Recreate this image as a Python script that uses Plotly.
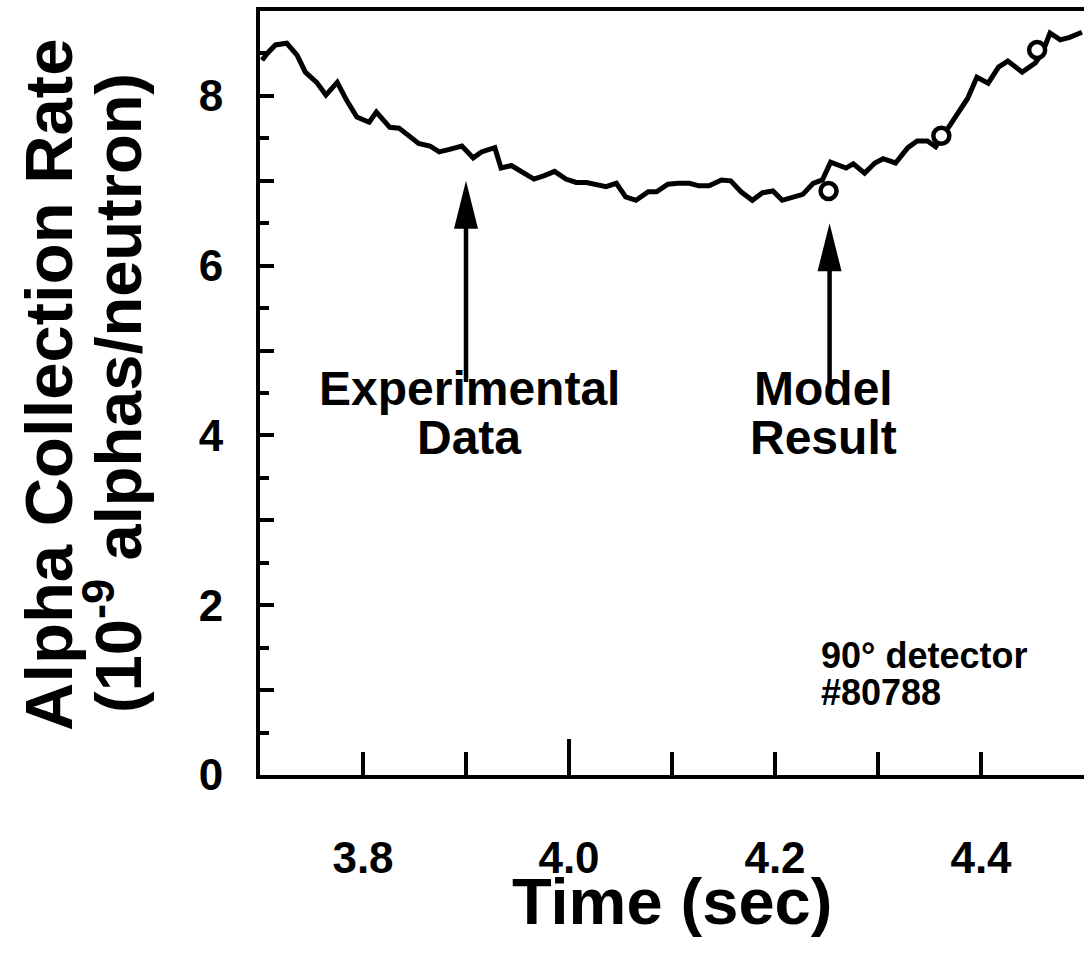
import plotly.graph_objects as go

# Experimental data (time in sec, alpha collection rate in 1e-9 alphas/neutron)
exp_time = [3.702, 3.707, 3.715, 3.726, 3.736, 3.744, 3.755, 3.764, 3.775, 3.784,
            3.794, 3.806, 3.813, 3.826, 3.835, 3.844, 3.854, 3.865, 3.874, 3.884,
            3.896, 3.907, 3.915, 3.928, 3.934, 3.944, 3.956, 3.966, 3.976, 3.986,
            3.997, 4.007, 4.017, 4.026, 4.036, 4.046, 4.055, 4.065, 4.077, 4.085,
            4.096, 4.106, 4.117, 4.126, 4.136, 4.148, 4.157, 4.167, 4.178, 4.188,
            4.198, 4.207, 4.217, 4.227, 4.237, 4.246, 4.254, 4.269, 4.276, 4.287,
            4.297, 4.305, 4.317, 4.329, 4.338, 4.348, 4.356, 4.365, 4.377, 4.387,
            4.396, 4.407, 4.417, 4.426, 4.440, 4.453, 4.460, 4.467, 4.477, 4.486,
            4.498]
exp_rate = [8.42, 8.50, 8.60, 8.62, 8.48, 8.28, 8.16, 8.01, 8.16, 7.95,
            7.75, 7.69, 7.81, 7.63, 7.62, 7.53, 7.44, 7.41, 7.34, 7.37,
            7.41, 7.27, 7.34, 7.39, 7.15, 7.18, 7.09, 7.02, 7.06, 7.11,
            7.02, 6.98, 6.98, 6.96, 6.93, 6.97, 6.81, 6.77, 6.87, 6.87,
            6.96, 6.97, 6.97, 6.94, 6.94, 7.01, 7.00, 6.87, 6.77, 6.86,
            6.88, 6.77, 6.81, 6.84, 6.97, 7.01, 7.22, 7.15, 7.20, 7.09,
            7.21, 7.26, 7.21, 7.39, 7.47, 7.47, 7.40, 7.56, 7.77, 7.97,
            8.22, 8.15, 8.34, 8.41, 8.28, 8.39, 8.52, 8.74, 8.66, 8.69,
            8.75]

# Model results
model_time = [4.252, 4.3615, 4.4545]
model_rate = [6.88, 7.53, 8.54]

# Axis ticks
x_tickvals = [3.8, 4.0, 4.2, 4.4]
x_ticktext = ["3.8", "4.0", "4.2", "4.4"]
y_tickvals = [0, 1, 2, 3, 4, 5, 6, 7, 8, 9]
y_ticktext = ["0", "", "2", "", "4", "", "6", "", "8", ""]

FONT = "Liberation Sans, Arial, Helvetica, sans-serif"
L, T, B = 260, 11, 197   # margins (px)
PW, PH = 1084 - L, 972 - T - B


def bold(size):
    return dict(size=size, family=FONT, color="black", weight="bold")


fig = go.Figure()
fig.add_trace(go.Scatter(x=exp_time, y=exp_rate, mode="lines",
                         line=dict(color="black", width=5),
                         showlegend=False, hoverinfo="skip"))
fig.add_trace(go.Scatter(x=model_time, y=model_rate, mode="markers",
                         marker=dict(symbol="circle", size=16, color="white",
                                     line=dict(color="black", width=4.5)),
                         showlegend=False, hoverinfo="skip"))

# Arrows: shaft lines + pixel-sized arrowheads anchored at tips
arrows = [(3.90, 4.63, 7.00), (4.253, 4.58, 6.50)]
shapes = []
for ax, ybot, ytip in arrows:
    shapes.append(dict(type="line", xref="x", yref="y", x0=ax, x1=ax,
                       y0=ybot, y1=ytip - 0.5, line=dict(color="black", width=4.5)))
    shapes.append(dict(type="path", xref="x", yref="y", xsizemode="pixel",
                       ysizemode="pixel", xanchor=ax, yanchor=ytip,
                       path="M0,0 L-12,-48 L12,-48 Z", fillcolor="black",
                       line=dict(width=0)))
# longer tick at 4.0
shapes.append(dict(type="line", xref="x", yref="y", ysizemode="pixel", yanchor=0,
                   x0=4.0, x1=4.0, y0=0, y1=36, line=dict(color="black", width=4)))

annotations = [
    dict(text="Experimental", x=3.903, y=4.55, xref="x", yref="y",
         xanchor="center", yanchor="middle", showarrow=False, font=bold(48)),
    dict(text="Data", x=3.903, y=3.97, xref="x", yref="y",
         xanchor="center", yanchor="middle", showarrow=False, font=bold(48)),
    dict(text="Model", x=4.247, y=4.55, xref="x", yref="y",
         xanchor="center", yanchor="middle", showarrow=False, font=bold(48)),
    dict(text="Result", x=4.247, y=3.97, xref="x", yref="y",
         xanchor="center", yanchor="middle", showarrow=False, font=bold(48)),
    dict(text="90° detector", x=4.243, y=1.41, xref="x", yref="y",
         xanchor="left", yanchor="middle", showarrow=False, font=bold(36)),
    dict(text="#80788", x=4.243, y=0.97, xref="x", yref="y",
         xanchor="left", yanchor="middle", showarrow=False, font=bold(36)),
    dict(text="Alpha Collection Rate",
         x=(48 - L) / PW, y=(775 - 385) / PH, xref="paper", yref="paper",
         xanchor="center", yanchor="middle", textangle=-90,
         showarrow=False, font=bold(67)),
    dict(text="(10<sup>-9</sup> alphas/neutron)",
         x=(114 - L) / PW, y=(775 - 393) / PH, xref="paper", yref="paper",
         xanchor="center", yanchor="middle", textangle=-90,
         showarrow=False, font=bold(65)),
    dict(text="Time (sec)", x=(672 - L) / PW, y=(775 - 902) / PH,
         xref="paper", yref="paper", xanchor="center", yanchor="middle",
         showarrow=False, font=bold(65)),
]

fig.update_layout(
    width=1084, height=972,
    margin=dict(l=L, r=0, t=T, b=B),
    paper_bgcolor="white", plot_bgcolor="white",
    shapes=shapes, annotations=annotations,
    font=dict(family=FONT, color="black"),
    xaxis=dict(range=[3.7, 4.5], showgrid=False, zeroline=False,
               showline=True, linecolor="black", linewidth=4, mirror=True,
               ticks="inside", ticklen=23, tickwidth=4, tickcolor="black",
               tickvals=x_tickvals, ticktext=x_ticktext,
               tickfont=bold(44), ticklabelstandoff=41,
               minor=dict(tick0=3.7, dtick=0.1, ticks="inside", ticklen=23,
                          tickwidth=4, tickcolor="black", showgrid=False)),
    yaxis=dict(range=[0, 9], showgrid=False, zeroline=False,
               showline=True, linecolor="black", linewidth=4,
               ticks="inside", ticklen=14, tickwidth=4, tickcolor="black",
               tickvals=y_tickvals, ticktext=y_ticktext,
               tickfont=bold(44), ticklabelstandoff=24,
               minor=dict(tick0=0, dtick=0.5, ticks="inside", ticklen=9,
                          tickwidth=4, tickcolor="black", showgrid=False)),
)

fig.write_html("out.html")
